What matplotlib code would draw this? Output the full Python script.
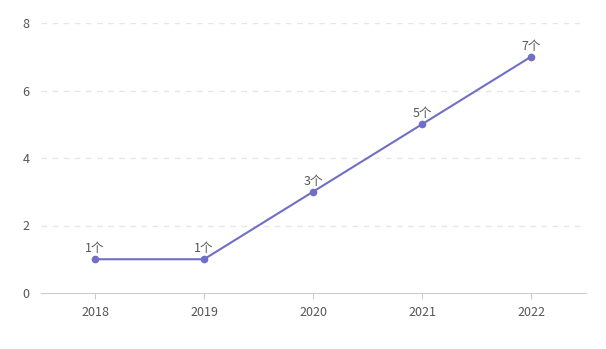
import matplotlib.pyplot as plt

plt.rcParams['font.family'] = ['Noto Sans CJK SC', 'DejaVu Sans']

# Yearly counts
years = ['2018', '2019', '2020', '2021', '2022']
counts = [1, 1, 3, 5, 7]
yticks = [0, 2, 4, 6, 8]

fig = plt.figure(figsize=(6.06, 3.49), dpi=100)
W, H = 606, 349
ax = fig.add_axes([40.5 / W, (H - 293) / H, (585.5 - 40.5) / W, (293 - 23) / H])

line_color = '#6f6fc6'
x = list(range(len(years)))
ax.plot(x, counts, color=line_color, lw=1.5, marker='o', ms=4.5, zorder=3)

for xi, v in zip(x, counts):
    ax.annotate(f'{v}个', (xi, v), xytext=(0, 3), textcoords='offset points',
                ha='center', va='bottom', fontsize=9, color='#555555')

ax.set_xlim(-0.5, len(years) - 0.5)
ax.set_ylim(0, 8)
ax.set_xticks(x)
ax.set_xticklabels(years)
ax.set_yticks(yticks)

for y in yticks[1:]:
    ax.axhline(y, color='#e6e6e6', lw=1, ls=(0, (4, 4)), zorder=0)

for side in ['top', 'right', 'left']:
    ax.spines[side].set_visible(False)
ax.spines['bottom'].set_color('#cccccc')

ax.tick_params(axis='x', colors='#cccccc', length=4, labelcolor='#555555',
               labelsize=9, pad=5)
ax.tick_params(axis='y', length=0, labelcolor='#555555', labelsize=9, pad=8)

fig.savefig('out.png', dpi=100)
